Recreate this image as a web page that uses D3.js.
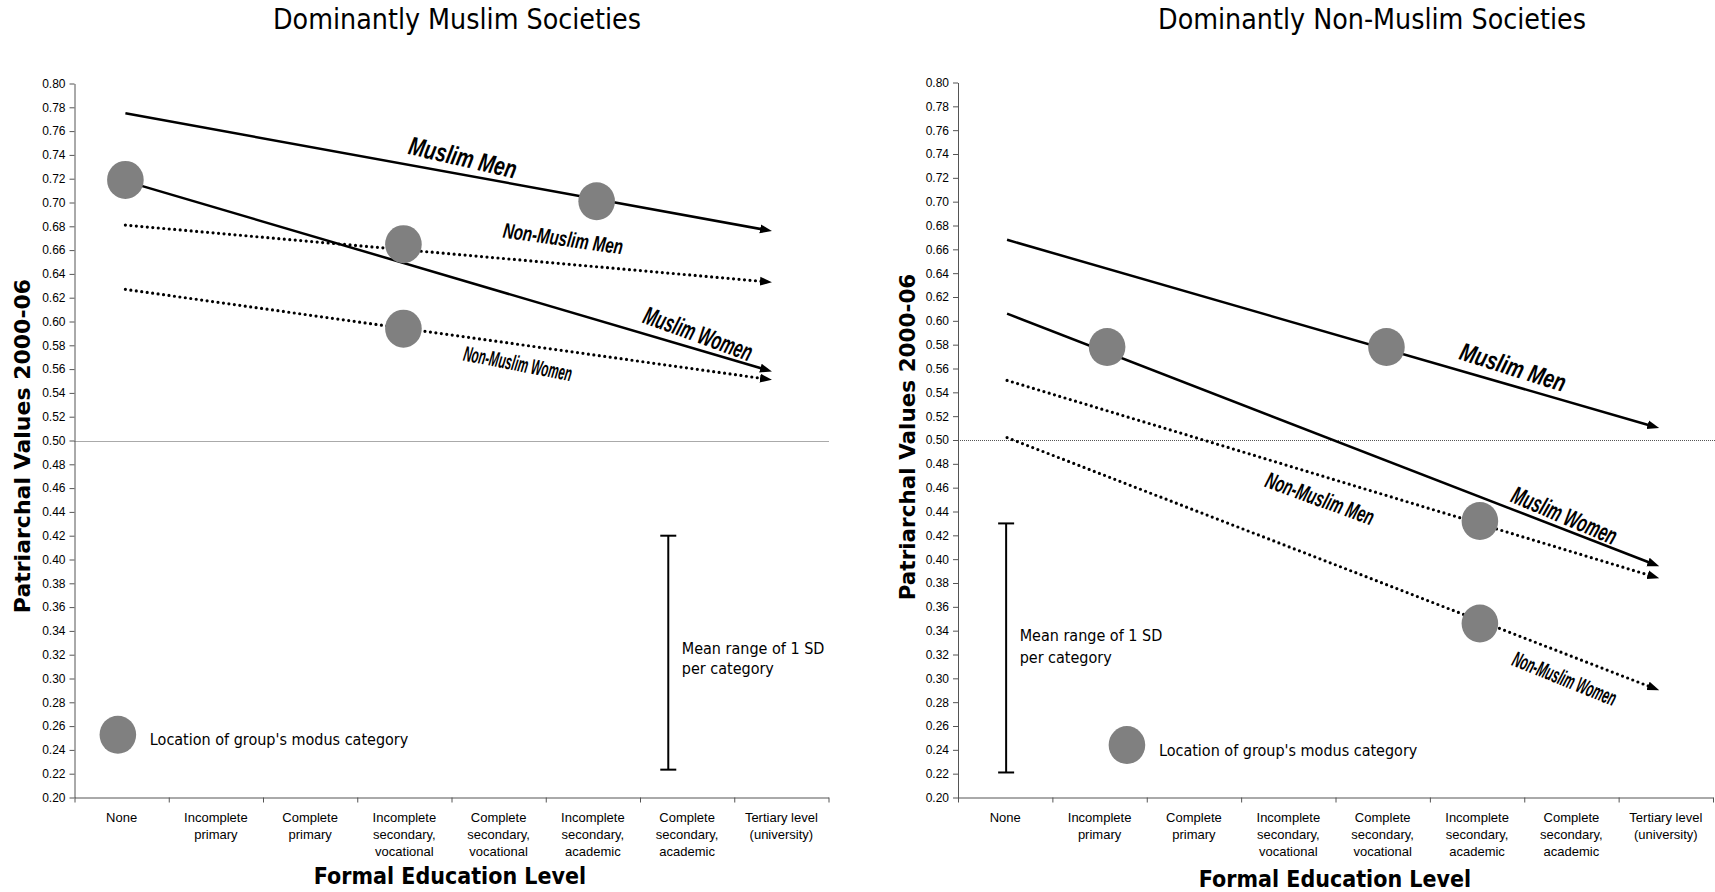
<!DOCTYPE html>
<html><head><meta charset="utf-8">
<script src="https://cdn.jsdelivr.net/npm/d3@7"></script>
<style>body{margin:0;background:#fff} svg{display:block}</style>
</head><body>
<svg id="chart" width="1715" height="892"></svg>
<script>
// ---------------- DATA ----------------
const categories = [
  ["None"], ["Incomplete","primary"], ["Complete","primary"],
  ["Incomplete","secondary,","vocational"], ["Complete","secondary,","vocational"],
  ["Incomplete","secondary,","academic"], ["Complete","secondary,","academic"],
  ["Tertiary level","(university)"]
];
const yTickValues = d3.range(10, 41).map(d => +(d * 0.02).toFixed(2));
const groups = ["Muslim Men", "Muslim Women", "Non-Muslim Men", "Non-Muslim Women"];

// Dominantly Muslim Societies
const muslimSocStart    = [0.775, 0.718, 0.681, 0.627];
const muslimSocEnd      = [0.676, 0.558, 0.633, 0.551];
const muslimSocSpan     = [0.54, 7.40];            // category units
const muslimSocModusCat = [5.54, 0.54, 3.49, 3.49];
const muslimSocModusVal = [0.701, 0.719, 0.665, 0.594];
const muslimSocSD       = [0.2234, 0.42];
const muslimSocSDCat    = 6.30;
const muslimSocLegend   = [0.46, 0.2527];

// Dominantly Non-Muslim Societies
const nonMuslimSocStart    = [0.668, 0.606, 0.550, 0.502];
const nonMuslimSocEnd      = [0.510, 0.394, 0.384, 0.290];
const nonMuslimSocSpan     = [0.52, 7.43];
const nonMuslimSocModusCat = [4.54, 1.58, 5.53, 5.53];
const nonMuslimSocModusVal = [0.578, 0.578, 0.432, 0.346];
const nonMuslimSocSD       = [0.221, 0.43];
const nonMuslimSocSDCat    = 0.51;
const nonMuslimSocLegend   = [1.79, 0.244];

// ---------------- LAYOUT / STYLE ----------------
const dashed = [false, false, true, true];
const panels = [
  { title: "Dominantly Muslim Societies", titleX: 457,
    x0: 74.5, x1: 828.5, yTop: 83.5, yBot: 797.5, refEnd: 829,
    start: muslimSocStart, end: muslimSocEnd, span: muslimSocSpan,
    modusCat: muslimSocModusCat, modusVal: muslimSocModusVal,
    sd: muslimSocSD, sdCat: muslimSocSDCat, legend: muslimSocLegend,
    sdText: [-4.7, 15.3], yTitle: [22, 446], yTitleSize: 22, xTitle: [450, 884],
    // t along line, vertical offset, angle, font size, target length
    labels: [[0.522, -17.7, 13, 26, 110], [0.886, -16.5, 20, 25.5, 114],
             [0.677, -25.5, 8, 21.5, 121], [0.607, 19, 11, 21.5, 110]] },
  { title: "Dominantly Non-Muslim Societies", titleX: 1372,
    x0: 958, x1: 1713, yTop: 82.5, yBot: 797.5, refEnd: 1715,
    start: nonMuslimSocStart, end: nonMuslimSocEnd, span: nonMuslimSocSpan,
    modusCat: nonMuslimSocModusCat, modusVal: nonMuslimSocModusVal,
    sd: nonMuslimSocSD, sdCat: nonMuslimSocSDCat, legend: nonMuslimSocLegend,
    sdText: [-12.5, 9.5], yTitle: [907, 437], yTitleSize: 21.5, xTitle: [1335, 887],
    labels: [[0.776, -19.2, 17.5, 25.5, 110], [0.855, -14.7, 23, 25, 112],
             [0.48, 22.9, 20, 23, 114], [0.855, 24.6, 22, 22, 110]] }
];

const svg = d3.select("#chart");
const defs = svg.append("defs");
defs.append("marker").attr("id", "arrow")
  .attr("markerUnits", "userSpaceOnUse")
  .attr("viewBox", "0 -6 14 12").attr("markerWidth", 14).attr("markerHeight", 12)
  .attr("refX", 7).attr("refY", 0).attr("orient", "auto")
  .append("path").attr("d", "M0,-4.5L12,0L0,4.5Z").attr("fill", "#000");

const TITLE_FONT = "'DejaVu Sans Condensed', 'DejaVu Sans', sans-serif";
const ARIAL = "'Liberation Sans', Arial, sans-serif";

panels.forEach(p => {
  const g = svg.append("g");
  const x = d3.scaleLinear().domain([0, 8]).range([p.x0, p.x1]);
  const y = d3.scaleLinear().domain([0.2, 0.8]).range([p.yBot, p.yTop]);

  // title
  g.append("text").attr("x", p.titleX).attr("y", 29).attr("text-anchor", "middle")
    .style("font-family", TITLE_FONT).style("font-size", "28.3px").attr("fill", "#000")
    .text(p.title);

  // 0.50 reference line
  g.append("line").attr("x1", p.x0).attr("x2", p.refEnd)
    .attr("y1", Math.round(y(0.5)) + 0.5).attr("y2", Math.round(y(0.5)) + 0.5)
    .attr("stroke", "#555").attr("stroke-width", 1).attr("stroke-dasharray", "1,1");

  // y axis
  const ya = g.append("g").attr("transform", `translate(${p.x0},0)`)
    .call(d3.axisLeft(y).tickValues(yTickValues).tickFormat(d3.format(".2f"))
      .tickSize(5).tickSizeOuter(0).tickPadding(4));
  ya.selectAll("path,line").attr("stroke", "#555");
  ya.selectAll("text").style("font-family", ARIAL).style("font-size", "12px").attr("fill", "#000");

  // x axis
  const xa = g.append("g").attr("transform", `translate(0,${p.yBot})`)
    .call(d3.axisBottom(x).tickValues(d3.range(0, 9)).tickFormat("").tickSize(5).tickSizeOuter(0));
  xa.selectAll("path,line").attr("stroke", "#555");

  // category labels
  categories.forEach((lines, i) => {
    const t = g.append("text").attr("text-anchor", "middle")
      .style("font-family", ARIAL).style("font-size", "13px").attr("fill", "#000");
    lines.forEach((ln, k) => {
      t.append("tspan").attr("x", x(i + 0.5)).attr("y", p.yBot + 24 + k * 17).text(ln);
    });
  });

  // axis titles
  g.append("text").attr("transform", `translate(${p.yTitle[0]},${p.yTitle[1]}) rotate(-90)`)
    .attr("text-anchor", "middle").attr("dy", "0.36em")
    .style("font-family", "'DejaVu Sans', sans-serif").style("font-weight", "bold")
    .style("font-size", p.yTitleSize + "px").text("Patriarchal Values 2000-06");
  g.append("text").attr("x", p.xTitle[0]).attr("y", p.xTitle[1]).attr("text-anchor", "middle")
    .style("font-family", TITLE_FONT).style("font-weight", "bold")
    .style("font-size", "23px").text("Formal Education Level");

  // group lines
  groups.forEach((name, i) => {
    const ax = x(p.span[0]), ay = y(p.start[i]);
    const bx = x(p.span[1]), by = y(p.end[i]);
    const len = Math.hypot(bx - ax, by - ay);
    const ux = (bx - ax) / len, uy = (by - ay) / len;
    g.append("line").attr("x1", ax).attr("y1", ay)
      .attr("x2", bx - ux * 5).attr("y2", by - uy * 5)
      .attr("stroke", "#000")
      .attr("stroke-width", dashed[i] ? 3.2 : 2.5)
      .attr("stroke-linecap", dashed[i] ? "round" : "butt")
      .attr("stroke-dasharray", dashed[i] ? "0,5.5" : null)
      .attr("marker-end", "url(#arrow)");
  });

  // modus circles
  groups.forEach((name, i) => {
    g.append("ellipse").attr("cx", x(p.modusCat[i])).attr("cy", y(p.modusVal[i]))
      .attr("rx", 18.3).attr("ry", 19).attr("fill", "#808080");
  });

  // group labels
  groups.forEach((name, i) => {
    const [tt, off, ang, fs, target] = p.labels[i];
    const ax = x(p.span[0]), ay = y(p.start[i]);
    const bx = x(p.span[1]), by = y(p.end[i]);
    const cx = ax + tt * (bx - ax), cy = ay + tt * (by - ay) + off;
    const lg = g.append("g").attr("transform", `translate(${cx},${cy}) rotate(${ang})`);
    const txt = lg.append("text").attr("text-anchor", "middle").attr("y", fs * 0.36)
      .style("font-family", ARIAL).style("font-weight", "bold").style("font-style", "italic")
      .style("font-size", fs + "px").attr("fill", "#000").text(name);
    const w = txt.node().getComputedTextLength();
    txt.attr("transform", `scale(${target / w},1)`);
  });

  // SD legend
  const sx = x(p.sdCat), s0 = y(p.sd[0]), s1 = y(p.sd[1]);
  g.append("line").attr("x1", sx).attr("x2", sx).attr("y1", s0).attr("y2", s1)
    .attr("stroke", "#000").attr("stroke-width", 2);
  [s0, s1].forEach(v => g.append("line").attr("x1", sx - 8).attr("x2", sx + 8)
    .attr("y1", v).attr("y2", v).attr("stroke", "#000").attr("stroke-width", 2));
  const mid = (s0 + s1) / 2;
  ["Mean range of 1 SD", "per category"].forEach((s, k) => {
    g.append("text").attr("x", sx + 13.5).attr("y", mid + p.sdText[k] + 5.6)
      .style("font-family", TITLE_FONT).style("font-size", "16px").attr("fill", "#000").text(s);
  });

  // modus legend
  const lx = x(p.legend[0]), ly = y(p.legend[1]);
  g.append("ellipse").attr("cx", lx).attr("cy", ly).attr("rx", 18.3).attr("ry", 19).attr("fill", "#808080");
  g.append("text").attr("x", lx + 32).attr("y", ly + 5 + 5.6)
    .style("font-family", TITLE_FONT).style("font-size", "16px").attr("fill", "#000")
    .text("Location of group's modus category");
});
</script>
</body></html>
